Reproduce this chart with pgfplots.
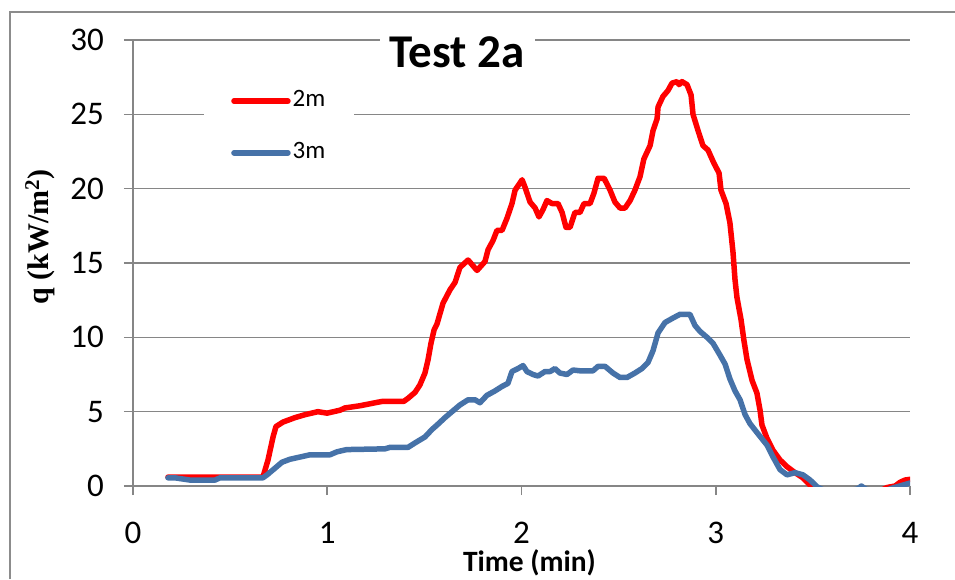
\documentclass[border=0pt]{standalone}
\usepackage{fontspec}
\setmainfont{Carlito}
\newfontfamily\labelserif{Liberation Serif}
\usepackage{pgfplots}
\usepackage{pgfplotstable}
\pgfplotsset{compat=1.18}

\definecolor{gridgray}{RGB}{134,134,134}
\definecolor{framegray}{RGB}{140,140,140}
\definecolor{seriesred}{RGB}{255,0,0}
\definecolor{seriesblue}{RGB}{70,114,168}

% heat flux at 2 m
\pgfplotstableread{
t q
0.180 0.6
0.669 0.6
0.695 1.75
0.721 3.3
0.736 4.0
0.772 4.3
0.834 4.6
0.886 4.8
0.952 5.0
0.999 4.9
1.066 5.1
1.091 5.25
1.169 5.4
1.246 5.6
1.287 5.7
1.395 5.7
1.416 5.9
1.452 6.3
1.477 6.8
1.503 7.6
1.519 8.5
1.534 9.6
1.550 10.5
1.565 10.9
1.596 12.3
1.632 13.2
1.658 13.7
1.683 14.7
1.725 15.2
1.771 14.5
1.812 15.1
1.828 15.9
1.853 16.5
1.874 17.2
1.900 17.2
1.925 18.0
1.951 19.0
1.967 19.9
2.003 20.6
2.018 20.1
2.044 19.1
2.070 18.7
2.090 18.1
2.111 18.6
2.131 19.2
2.157 19.0
2.188 19.0
2.209 18.4
2.229 17.4
2.250 17.4
2.275 18.4
2.301 18.4
2.322 19.0
2.353 19.0
2.373 19.7
2.394 20.7
2.425 20.7
2.456 19.9
2.481 19.1
2.507 18.7
2.533 18.7
2.559 19.2
2.584 19.9
2.610 20.8
2.630 22.0
2.662 22.9
2.677 23.9
2.698 24.7
2.703 25.5
2.728 26.2
2.754 26.6
2.775 27.1
2.801 27.2
2.811 27.0
2.826 27.2
2.852 27.0
2.873 26.3
2.883 25.0
2.909 23.9
2.934 22.9
2.960 22.6
2.991 21.7
3.017 21.05
3.027 19.9
3.053 19.0
3.073 17.7
3.089 15.7
3.099 13.9
3.109 12.7
3.130 11.2
3.145 9.8
3.161 8.5
3.187 7.1
3.212 6.25
3.228 5.1
3.238 4.1
3.264 3.2
3.295 2.4
3.331 1.75
3.367 1.3
3.408 0.9
3.449 0.55
3.486 0.05
3.502 -0.1
3.550 -0.4
3.650 -0.6
3.750 -0.5
3.850 -0.3
3.882 -0.1
3.923 0.0
3.949 0.25
3.974 0.4
4.000 0.45
}\fluxtwo

% heat flux at 3 m
\pgfplotstableread{
t q
0.180 0.55
0.216 0.55
0.293 0.4
0.422 0.4
0.448 0.55
0.669 0.55
0.690 0.75
0.731 1.2
0.767 1.6
0.808 1.8
0.860 1.95
0.911 2.1
1.014 2.1
1.050 2.3
1.100 2.45
1.297 2.5
1.323 2.6
1.416 2.6
1.452 2.9
1.503 3.3
1.539 3.8
1.565 4.1
1.606 4.6
1.642 5.0
1.683 5.45
1.725 5.8
1.761 5.8
1.786 5.6
1.822 6.1
1.864 6.4
1.900 6.7
1.930 6.9
1.951 7.7
1.982 7.9
2.008 8.1
2.028 7.7
2.059 7.5
2.085 7.4
2.121 7.7
2.147 7.7
2.172 7.9
2.198 7.6
2.234 7.5
2.265 7.8
2.301 7.75
2.368 7.75
2.394 8.05
2.430 8.05
2.471 7.6
2.507 7.3
2.543 7.3
2.584 7.6
2.620 7.9
2.651 8.3
2.677 9.1
2.703 10.3
2.739 11.0
2.780 11.3
2.816 11.55
2.867 11.55
2.893 10.8
2.919 10.4
2.955 10.0
2.986 9.6
3.022 8.8
3.048 8.2
3.073 7.2
3.099 6.4
3.125 5.8
3.151 4.8
3.176 4.2
3.212 3.6
3.264 2.75
3.295 1.95
3.331 1.1
3.367 0.75
3.408 0.9
3.449 0.75
3.486 0.4
3.521 -0.05
3.552 -0.25
3.650 -0.4
3.730 -0.2
3.750 0.0
3.770 -0.2
3.850 -0.4
3.920 -0.1
3.960 0.05
4.000 0.2
}\fluxthree

\begin{document}
\begin{tikzpicture}[x=1pt,y=1pt]
\path[use as bounding box] (0,0) rectangle (955,-579);
% chart frame
\draw[framegray, line width=1.5pt] (10,-579) -- (10,-12) -- (955,-12);
\begin{axis}[
  at={(133pt,-486pt)}, anchor=south west,
  scale only axis, width=777pt, height=446pt,
  xmin=0, xmax=4, ymin=0, ymax=30,
  xtick={0,1,2,3,4}, ytick={0,5,...,30},
  axis x line*=bottom, axis y line*=left,
  axis line style={gridgray, line width=1.6pt, -},
  ymajorgrids, grid style={gridgray, line width=1.6pt},
  tick align=outside, major tick length=9pt,
  tick style={gridgray, line width=1.6pt},
  tick label style={font=\fontsize{33}{40}\selectfont},
  /pgf/number format/assume math mode=true,
  yticklabel style={inner sep=0pt, anchor=east, xshift=-20pt},
  xticklabel style={inner sep=0pt, anchor=north, yshift=-27pt},
  title={Test 2a},
  title style={at={(axis description cs:0.417,0.9238)}, anchor=base,
    fill=white, inner xsep=10pt, inner ysep=2pt,
    font=\bfseries\fontsize{47}{56}\selectfont},
  xlabel={Time (min)},
  xlabel style={at={(axis description cs:0.5103,-0.1906)}, anchor=base,
    inner sep=0pt, font=\bfseries\fontsize{29.5}{35}\selectfont},
  ylabel={q (kW/m\textsuperscript{2})},
  ylabel style={at={(axis description cs:-0.1197,0.5583)}, anchor=center,
    inner sep=0pt, font=\labelserif\bfseries\fontsize{30}{36}\selectfont},
  legend style={at={(axis description cs:0.0914,0.9148)}, anchor=north west,
    draw=none, fill=white, inner xsep=27pt, inner ysep=12pt,
    font=\fontsize{25}{30}\selectfont, row sep=34pt,
    nodes={inner xsep=2pt, inner ysep=0pt}},
  legend cell align=left,
  legend image code/.code={\draw[#1] (0pt,-2pt) -- (54pt,-2pt);},
  every axis plot/.append style={line width=5.5pt, line join=round, line cap=round},
]
\addplot[seriesred] table[x=t, y=q] {\fluxtwo};
\addplot[seriesblue] table[x=t, y=q] {\fluxthree};
\legend{2m,3m}
\end{axis}
\end{tikzpicture}
\end{document}
